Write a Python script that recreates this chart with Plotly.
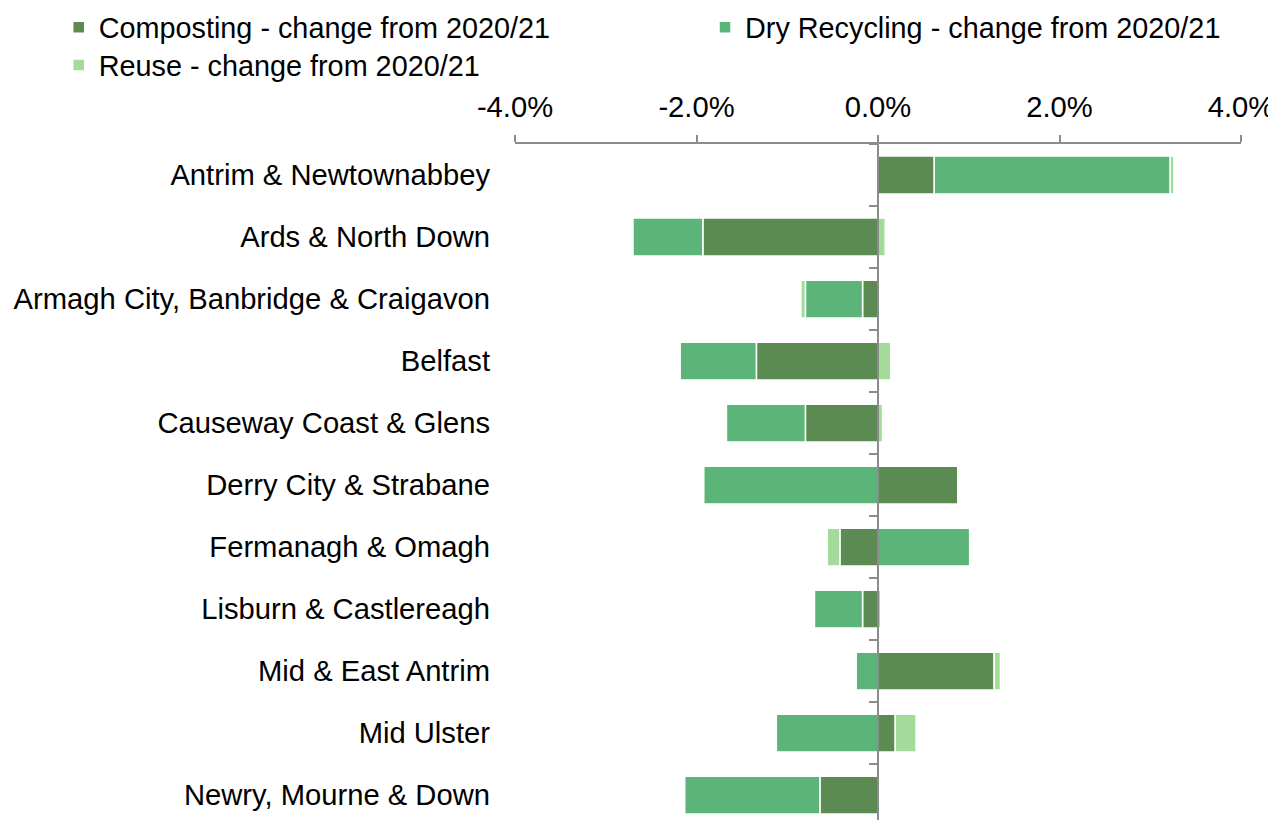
import plotly.graph_objects as go

councils = [
    "Antrim & Newtownabbey",
    "Ards & North Down",
    "Armagh City, Banbridge & Craigavon",
    "Belfast",
    "Causeway Coast & Glens",
    "Derry City & Strabane",
    "Fermanagh & Omagh",
    "Lisburn & Castlereagh",
    "Mid & East Antrim",
    "Mid Ulster",
    "Newry, Mourne & Down",
]

# percentage point change from 2020/21
composting = [0.62, -1.93, -0.17, -1.34, -0.80, 0.88, -0.42, -0.17, 1.28, 0.19, -0.64]
dry_recycling = [2.60, -0.77, -0.63, -0.84, -0.87, -1.92, 1.01, -0.53, -0.24, -1.12, -1.49]
reuse = [0.04, 0.08, -0.05, 0.14, 0.05, 0.00, -0.14, 0.03, 0.07, 0.23, 0.00]

x_ticks = [-4, -2, 0, 2, 4]
x_tick_text = ["-4.0%", "-2.0%", "0.0%", "2.0%", "4.0%"]

FONT = "Liberation Sans, Arial, sans-serif"
FS = 29.2
AXIS_GREY = "#8c8c8c"

fig = go.Figure()

# (name, values, colour, which legend box)
series = [
    ("Composting - change from 2020/21", composting, "#5b8a52", "legend"),
    ("Dry Recycling - change from 2020/21", dry_recycling, "#5cb578", "legend2"),
    ("Reuse - change from 2020/21", reuse, "#a4db9b", "legend3"),
]
for name, vals, colour, leg in series:
    fig.add_trace(go.Bar(
        y=councils, x=vals, name=name, orientation="h", legend=leg,
        marker=dict(color=colour, line=dict(color="white", width=1.5)),
    ))

# invisible helper trace so the axis through zero gets its category ticks
fig.add_trace(go.Scatter(
    y=councils, x=[0] * len(councils), yaxis="y2", mode="markers",
    marker=dict(opacity=0), showlegend=False, hoverinfo="skip",
))

yrange = [10.4, -0.5]

legend_common = dict(
    orientation="v", xref="container", yref="paper",
    xanchor="left", yanchor="top",
    font=dict(family=FONT, size=FS - 0.4, color="black"),
    itemwidth=30, tracegroupgap=0, bgcolor="rgba(0,0,0,0)",
)

fig.update_layout(
    width=1268, height=812,
    barmode="relative", bargap=0.39,
    plot_bgcolor="white", paper_bgcolor="white",
    font=dict(family=FONT, size=FS, color="black"),
    margin=dict(l=507, r=35, t=136, b=0, autoexpand=False),
    showlegend=True,
    legend=dict(x=0.040, y=1.210, **legend_common),
    legend2=dict(x=0.5497, y=1.210, **legend_common),
    legend3=dict(x=0.040, y=1.154, **legend_common),
    xaxis=dict(
        range=[-4, 4], side="top", tickvals=x_ticks, ticktext=x_tick_text,
        showgrid=False, zeroline=False,
        showline=True, linecolor=AXIS_GREY, linewidth=2,
        ticks="outside", ticklen=7, tickwidth=2, tickcolor=AXIS_GREY,
        ticklabelstandoff=6,
    ),
    yaxis=dict(
        type="category", categoryarray=councils, range=yrange,
        showgrid=False, zeroline=False, showline=False, ticks="",
        ticklabelstandoff=24,
    ),
    yaxis2=dict(
        type="category", categoryarray=councils, range=yrange,
        overlaying="y", anchor="free", position=0.5, side="left",
        showgrid=False, zeroline=False, showticklabels=False,
        showline=True, linecolor=AXIS_GREY, linewidth=2,
        ticks="outside", tickson="boundaries", ticklen=8, tickwidth=2,
        tickcolor=AXIS_GREY, layer="above traces",
    ),
)

fig.write_html("out.html")
